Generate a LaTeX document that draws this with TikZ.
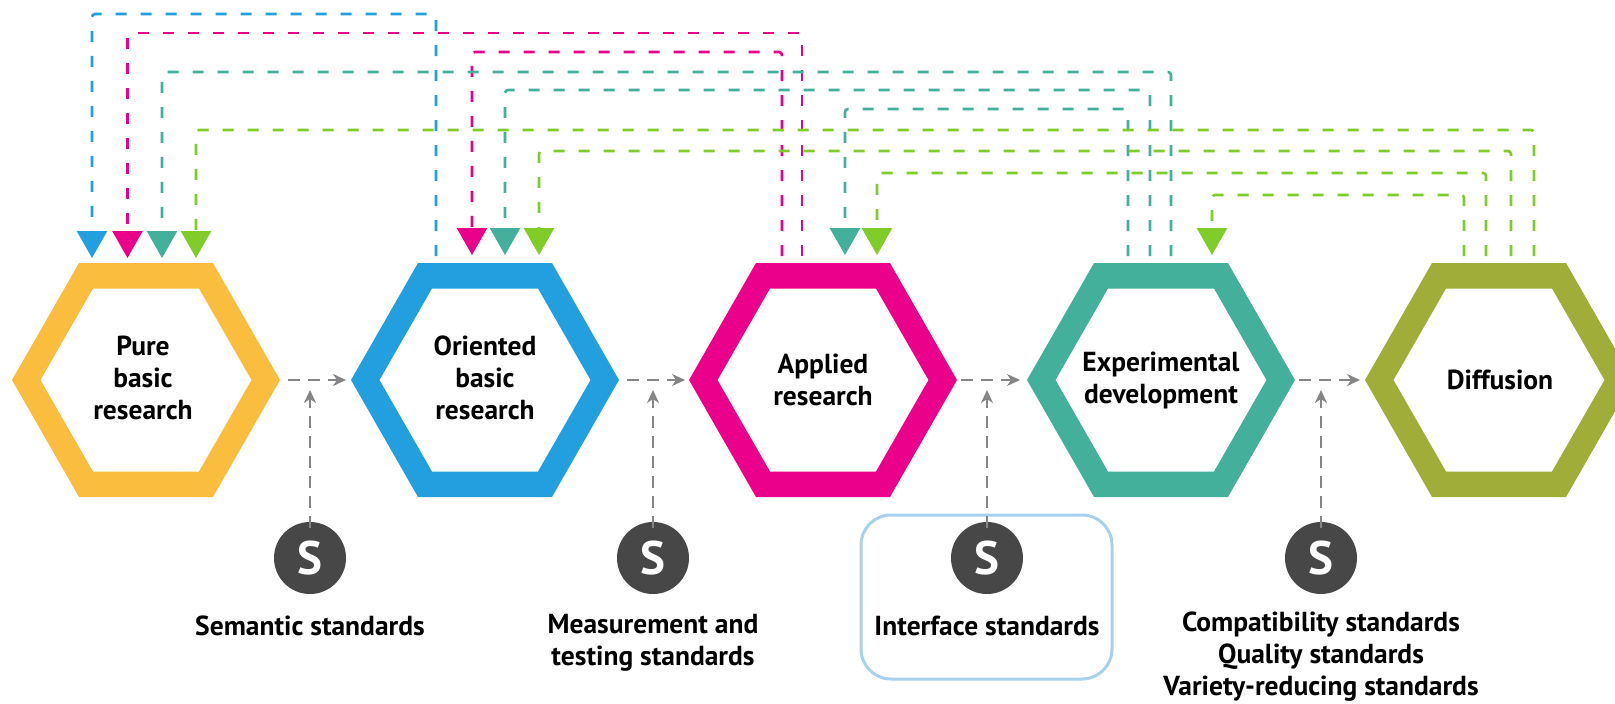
\documentclass[tikz,border=0pt]{standalone}
\usepackage{fontspec}
\setmainfont{PT Sans}
\usetikzlibrary{arrows.meta}
\definecolor{cYel}{HTML}{FABD3E}
\definecolor{cBlu}{HTML}{219FDF}
\definecolor{cMag}{HTML}{EB008B}
\definecolor{cTea}{HTML}{42B09A}
\definecolor{cOli}{HTML}{A0AD39}
\definecolor{cGrn}{HTML}{80CC28}
\definecolor{cGry}{HTML}{858585}
\definecolor{cDrk}{HTML}{474747}
\definecolor{cBox}{HTML}{A8D1EF}
\begin{document}
\begin{tikzpicture}[x=1pt,y=-1pt,
  hextext/.style={align=center,font=\bfseries\fontsize{27.5}{32}\selectfont,inner sep=0pt},
  lab/.style={align=center,font=\bfseries\fontsize{27.5}{32}\selectfont,inner sep=0pt},
  scirc/.style={circle,fill=cDrk,minimum size=72pt,inner sep=0pt,text=white,font=\bfseries\fontsize{47}{47}\selectfont},
  dl/.style={line width=2.6pt,dash pattern=on 11pt off 14pt,rounded corners=3pt},
  tip/.style={-{Triangle[width=30pt,length=27pt]}},
  garrow/.style={cGry,line width=2pt,dash pattern=on 12pt off 8pt,-{Stealth[length=13pt,width=12pt,inset=4pt]}}
]
\useasboundingbox (0,0) rectangle (1615,704);
\clip (0,0) rectangle (1615,704);
% hexagon rings
\foreach \cx/\col in {146/cYel,485/cBlu,823/cMag,1161/cTea,1499/cOli}{
  \fill[\col,even odd rule] (\cx-134,380) -- (\cx-67,263) -- (\cx+67,263) -- (\cx+134,380) -- (\cx+67,497) -- (\cx-67,497) -- cycle
    (\cx-105.5,380) -- (\cx-53,288.5) -- (\cx+53,288.5) -- (\cx+105.5,380) -- (\cx+53,471.5) -- (\cx-53,471.5) -- cycle;
}
% hexagon texts
\node[hextext] (h1) at (143,378) {Pure\\basic\\research};
\node[hextext] (h2) at (485,378) {Oriented\\basic\\research};
\node[hextext] (h3) at (823,380) {Applied\\research};
\node[hextext] (h4) at (1161,380) {Experimental\\development};
\node[hextext] (h5) at (1500,380) {Diffusion};
% ports
\coordinate (tB1) at (92,258);
\coordinate (tM1) at (127.5,258);
\coordinate (tT1) at (162,258);
\coordinate (tG1) at (196,258);
\coordinate (tM2) at (472,255);
\coordinate (tT2) at (505,255);
\coordinate (tG2) at (539,255);
\coordinate (tT3) at (845,255);
\coordinate (tG3) at (877,255);
\coordinate (tG4) at (1212,255);
\coordinate (sB2) at (436,256);
\coordinate (sM3a) at (782,256);
\coordinate (sM3b) at (802,256);
\coordinate (sT4a) at (1128,256);
\coordinate (sT4b) at (1150,256);
\coordinate (sT4c) at (1171,256);
\coordinate (sG5a) at (1464,256);
\coordinate (sG5b) at (1486,256);
\coordinate (sG5c) at (1511,256);
\coordinate (sG5d) at (1534,256);
% feedback connectors
\draw[dl,tip,cBlu] (sB2) -- (sB2 |- 0,14) -| (tB1);
\draw[dl,tip,cMag] (sM3b) -- (sM3b |- 0,33) -| (tM1);
\draw[dl,tip,cMag] (sM3a) -- (sM3a |- 0,52) -| (tM2);
\draw[dl,tip,cTea] (sT4c) -- (sT4c |- 0,72) -| (tT1);
\draw[dl,tip,cTea] (sT4b) -- (sT4b |- 0,90) -| (tT2);
\draw[dl,tip,cTea] (sT4a) -- (sT4a |- 0,109) -| (tT3);
\draw[dl,tip,cGrn] (sG5d) -- (sG5d |- 0,130) -| (tG1);
\draw[dl,tip,cGrn] (sG5c) -- (sG5c |- 0,151) -| (tG2);
\draw[dl,tip,cGrn] (sG5b) -- (sG5b |- 0,173) -| (tG3);
\draw[dl,tip,cGrn] (sG5a) -- (sG5a |- 0,195) -| (tG4);
% flow arrows between hexagons
\coordinate (f1s) at (288,380); \coordinate (f1e) at (346,380);
\coordinate (f2s) at (627,380); \coordinate (f2e) at (685,380);
\coordinate (f3s) at (961,380); \coordinate (f3e) at (1020,380);
\coordinate (f4s) at (1299,380); \coordinate (f4e) at (1360,380);
\draw[garrow] (f1s) -- (f1e);
\draw[garrow] (f2s) -- (f2e);
\draw[garrow] (f3s) -- (f3e);
\draw[garrow] (f4s) -- (f4e);
% interface box
\node[draw=cBox,line width=3pt,rounded corners=30pt,minimum width=251pt,minimum height=164pt,inner sep=0pt] (box) at (986.5,597) {};
% standards circles
\node[scirc] (s1) at (310,558) {S};
\node[scirc] (s2) at (653,558) {S};
\node[scirc] (s3) at (987,558) {S};
\node[scirc] (s4) at (1321,558) {S};
\coordinate (v1) at (310,390);
\coordinate (v2) at (653,390);
\coordinate (v3) at (987,390);
\coordinate (v4) at (1321,390);
\draw[garrow] ([yshift=-6pt]s1.north) -- (v1);
\draw[garrow] ([yshift=-6pt]s2.north) -- (v2);
\draw[garrow] ([yshift=-6pt]s3.north) -- (v3);
\draw[garrow] ([yshift=-6pt]s4.north) -- (v4);
% labels
\node[lab] (l1) at (310,626) {Semantic standards};
\node[lab] (l2) at (653,642.5) {Measurement and\\testing standards};
\node[lab] (l3) at (987,626) {Interface standards};
\node[lab] (l4) at (1321,657) {Compatibility standards\\Quality standards\\Variety-reducing standards};
\end{tikzpicture}
\end{document}
